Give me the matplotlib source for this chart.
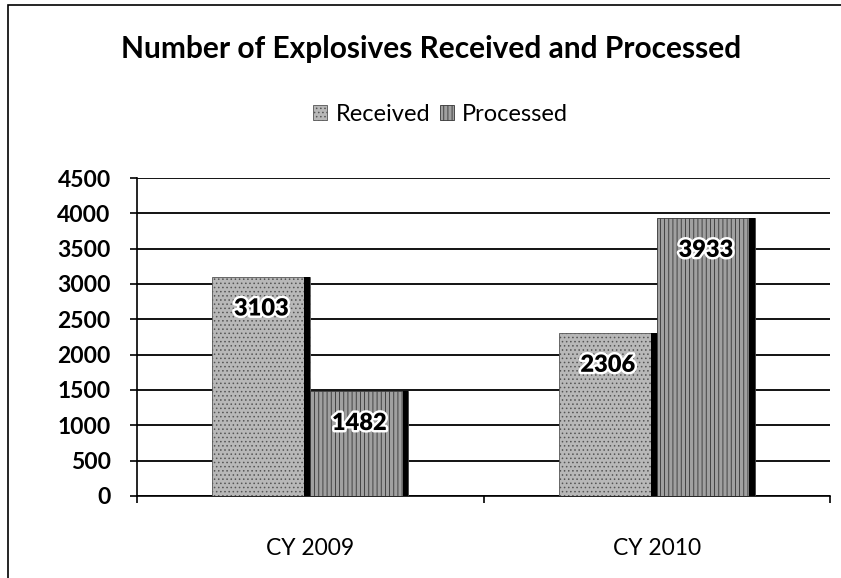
import numpy as np
import matplotlib.pyplot as plt
import matplotlib.patheffects as pe
from matplotlib.patches import Rectangle

# data
categories = ["CY 2009", "CY 2010"]
received = [3103, 2306]
processed = [1482, 3933]
yticks = [0, 500, 1000, 1500, 2000, 2500, 3000, 3500, 4000, 4500]

plt.rcParams['font.family'] = ['Lato', 'DejaVu Sans']
plt.rcParams['hatch.linewidth'] = 0.6

fig = plt.figure(figsize=(8.41, 5.78), dpi=100)
ax = fig.add_axes([0.163, 0.142, 0.824, 0.550])

x = np.arange(len(categories))
w = 0.283

bars_r = ax.bar(x - w / 2, received, width=w, color='#b8b8b8', edgecolor='#555555',
                hatch='....', linewidth=0.6, label='Received', zorder=3)
bars_p = ax.bar(x + w / 2, processed, width=w, color='#a0a0a0', edgecolor='#333333',
                hatch='||||', linewidth=0.6, label='Processed', zorder=3)

# dark shaded right side of each bar
for b in list(bars_r) + list(bars_p):
    ax.add_patch(Rectangle((b.get_x() + b.get_width() * 0.94, 0), b.get_width() * 0.06,
                           b.get_height(), color='black', zorder=4, lw=0))

# value labels, inside end
glow = [pe.withStroke(linewidth=3.5, foreground='white')]
for bars in (bars_r, bars_p):
    for b in bars:
        ax.text(b.get_x() + b.get_width() / 2, b.get_height() - 450, f"{int(b.get_height())}",
                ha='center', va='center', fontsize=17, fontweight='heavy',
                color='black', path_effects=glow, zorder=5)

ax.set_ylim(0, 4500)
ax.set_yticks(yticks)
ax.set_yticklabels([str(t) for t in yticks], fontsize=16.5, fontweight='bold')
ax.set_xlim(-0.5, 1.5)
ax.set_xticks(x)
ax.set_xticklabels(categories, fontsize=16.5)
ax.set_xticks([-0.5, 0.5, 1.5], minor=True)
ax.tick_params(axis='x', which='major', length=0, pad=30)
ax.tick_params(axis='x', which='minor', length=5, width=1.2, direction='out')
ax.tick_params(axis='y', length=5, width=1.2, pad=14)

ax.grid(axis='y', color='black', linewidth=1.3, zorder=0)
ax.set_axisbelow(True)
for s in ['top', 'right']:
    ax.spines[s].set_visible(False)
ax.spines['left'].set_linewidth(1.2)
ax.spines['bottom'].set_linewidth(1.2)

fig.text(0.5125, 0.915, "Number of Explosives Received and Processed",
         ha='center', va='center', fontsize=21.5, fontweight='bold')

leg = fig.legend(handles=[bars_r, bars_p], loc='center', bbox_to_anchor=(0.524, 0.802),
                 ncol=2, frameon=False, fontsize=17, handlelength=0.6, handleheight=0.6,
                 handletextpad=0.35, columnspacing=0.4)

# outer frame of the chart (left and top edges only visible)
fig.add_artist(Rectangle((0.010, -0.05), 1.2, 1.041, transform=fig.transFigure,
                         fill=False, edgecolor='black', linewidth=1.2))

fig.savefig('out.png', dpi=100)
